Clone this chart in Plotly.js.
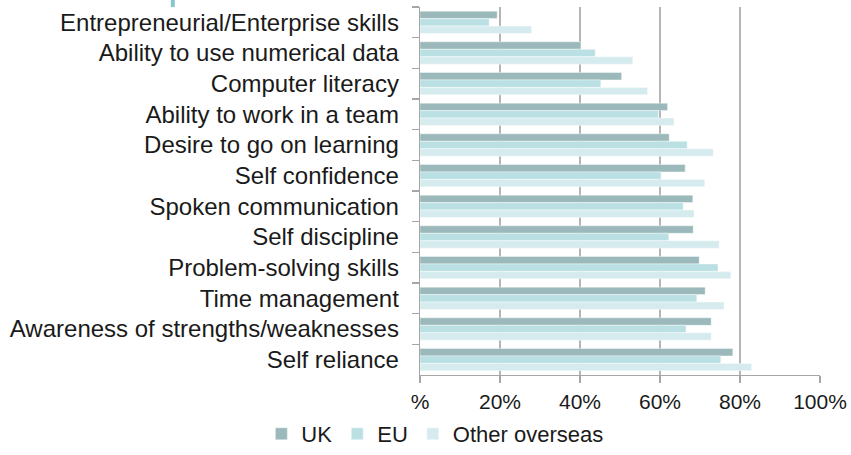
<!DOCTYPE html>
<html>
<head>
<meta charset="utf-8">
<script src="https://cdn.plot.ly/plotly-3.0.1.min.js"></script>
<style>html,body{margin:0;padding:0;background:#fff;}#chart{width:851px;height:455px;}</style>
</head>
<body>
<div id="chart"></div>
<script>
const categories = [
  "Entrepreneurial/Enterprise skills",
  "Ability to use numerical data",
  "Computer literacy",
  "Ability to work in a team",
  "Desire to go on learning",
  "Self confidence",
  "Spoken communication",
  "Self discipline",
  "Problem-solving skills",
  "Time management",
  "Awareness of strengths/weaknesses",
  "Self reliance"
];
const ukValues    = [19.3, 40.2, 50.4, 61.9, 62.3, 66.3, 68.2, 68.3, 69.8, 71.3, 72.8, 78.2];
const euValues    = [17.3, 43.8, 45.2, 59.6, 66.8, 60.2, 65.8, 62.2, 74.5, 69.2, 66.5, 75.2];
const otherValues = [27.9, 53.2, 56.9, 63.5, 73.3, 71.2, 68.5, 74.8, 77.7, 76.0, 72.8, 82.9];
const seriesNames = ["UK", "EU", "Other overseas"];
const tickVals = [0, 20, 40, 60, 80, 100];
const tickText = ["%", "20%", "40%", "60%", "80%", "100%"];

const colors = ["#9bb9ba", "#bbe0e3", "#d6ebee"];
const seriesValues = [ukValues, euValues, otherValues];

const traces = seriesValues.map((vals, i) => ({
  type: "bar",
  orientation: "h",
  name: seriesNames[i],
  y: categories,
  x: vals,
  marker: {color: colors[i], line: {color: "rgba(255,255,255,0.7)", width: 0.6}},
  hoverinfo: "x+y"
}));

const layout = {
  width: 851,
  height: 455,
  margin: {l: 420, r: 31, t: 7, b: 80},
  paper_bgcolor: "#ffffff",
  plot_bgcolor: "#ffffff",
  font: {family: "Liberation Sans, Arial, sans-serif", size: 22, color: "#1a1a1a"},
  barmode: "group",
  bargap: 0.27,
  bargroupgap: 0,
  showlegend: true,
  legend: {
    orientation: "h",
    xref: "container",
    x: 0.511,
    xanchor: "center",
    yref: "container",
    y: 0.0,
    yanchor: "bottom",
    font: {size: 22, color: "#1a1a1a"},
    itemwidth: 30,
    traceorder: "normal"
  },
  xaxis: {
    range: [0, 100],
    tickvals: tickVals,
    ticktext: tickText,
    showgrid: true,
    gridcolor: "#b5b5b5",
    gridwidth: 1.3,
    zeroline: false,
    showline: true,
    linecolor: "#a6a6a6",
    linewidth: 1.3,
    ticks: "outside",
    ticklen: 7,
    tickcolor: "#a6a6a6",
    tickwidth: 1.3,
    tickfont: {size: 21, color: "#1a1a1a"},
    fixedrange: true
  },
  yaxis: {
    type: "category",
    autorange: "reversed",
    showline: true,
    linecolor: "#a6a6a6",
    linewidth: 1.3,
    ticks: "outside",
    tickson: "boundaries",
    ticklen: 7,
    tickcolor: "#a6a6a6",
    tickwidth: 1.3,
    showgrid: false,
    tickfont: {size: 24, color: "#1a1a1a"},
    ticklabelstandoff: 15,
    fixedrange: true
  },
  shapes: [{
    type: "rect", xref: "paper", yref: "paper",
    x0: -0.623, x1: -0.613, y0: 1.0, y1: 1.02,
    fillcolor: "#86c6cf", line: {width: 0}
  }]
};

Plotly.newPlot("chart", traces, layout, {displayModeBar: false, staticPlot: true});
</script>
</body>
</html>
